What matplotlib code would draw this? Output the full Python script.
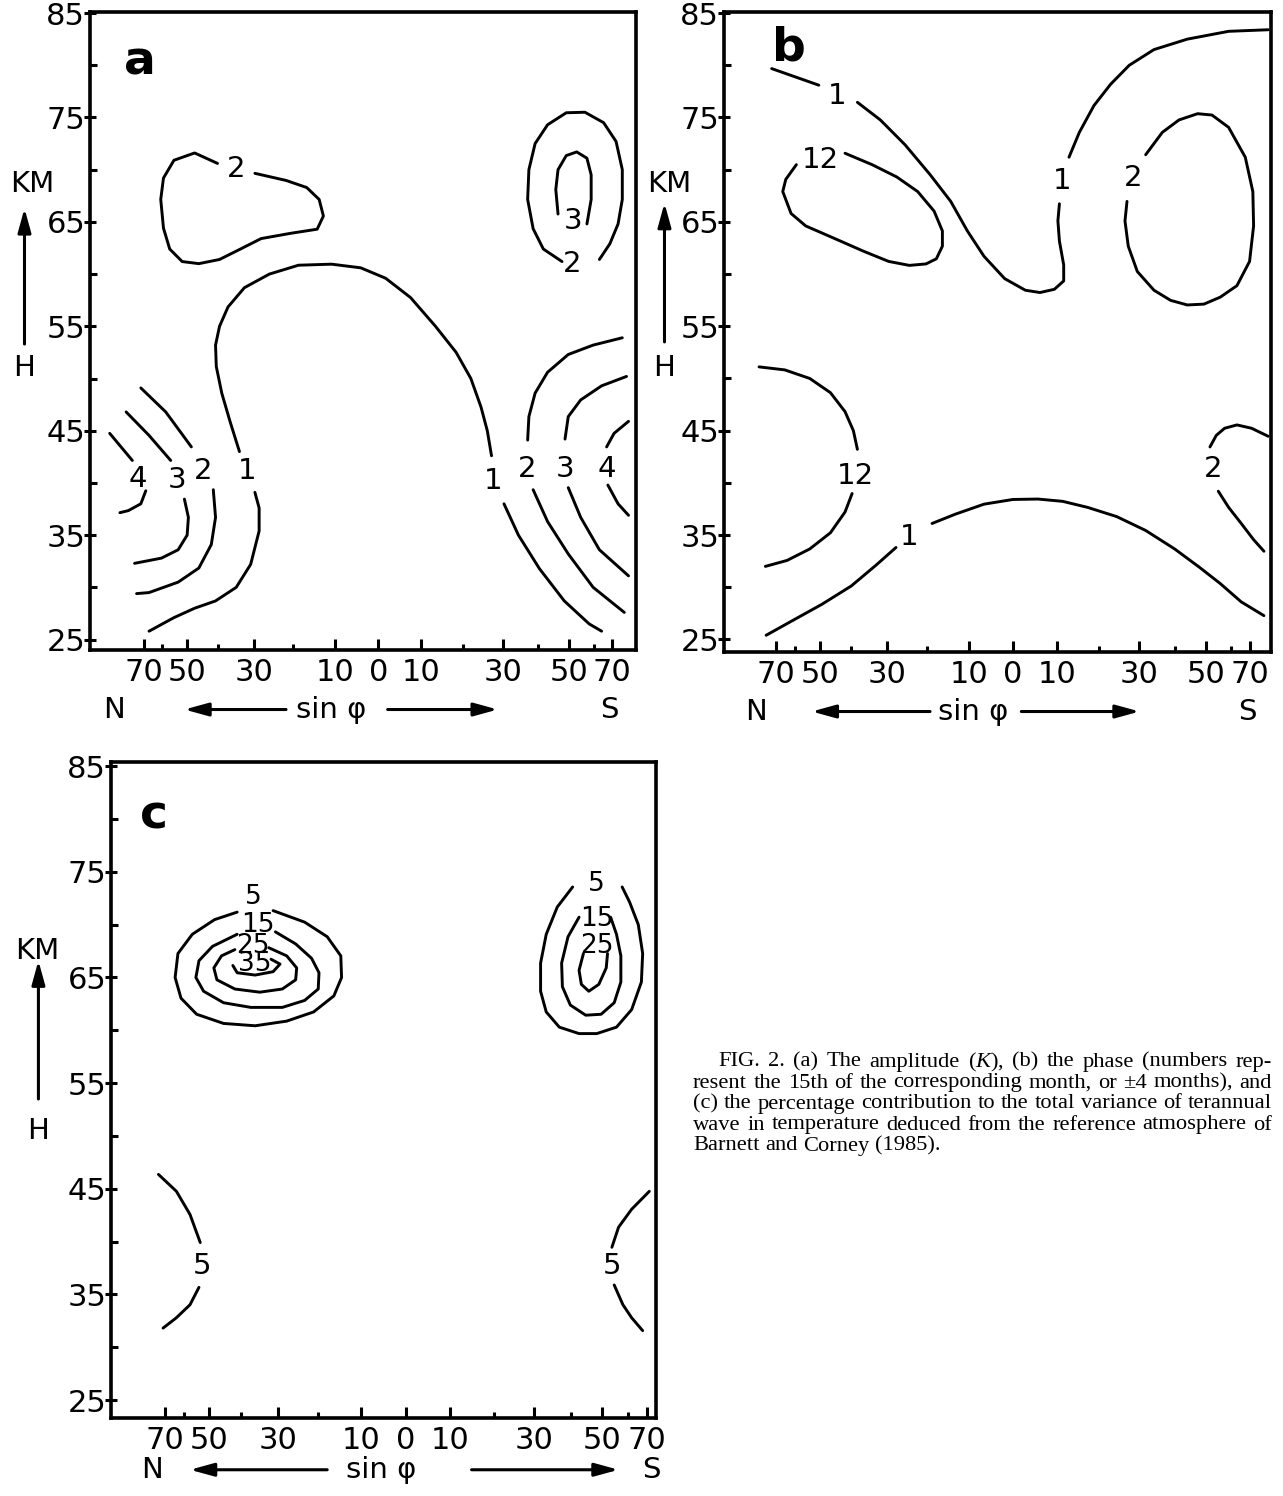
import numpy as np
import matplotlib.pyplot as plt

plt.rcParams['font.family'] = ['DejaVu Sans']
plt.rcParams['mathtext.fontset'] = 'custom'
plt.rcParams['mathtext.rm'] = 'Liberation Serif'
plt.rcParams['mathtext.it'] = 'Liberation Serif:italic'

# axes: x is sin(latitude), north negative; y is height in km
km_major = [25, 35, 45, 55, 65, 75, 85]
km_minor = [30, 40, 50, 60, 70, 80]
lat_major = [-70, -50, -30, -10, 0, 10, 30, 50, 70]
lat_minor = [-60, -40, -20, 20, 40, 60]
lat_labels = ['70', '50', '30', '10', '0', '10', '30', '50', '70']

# ---- (a) amplitude (K), contour pieces as (sin lat, km)
a_two_nw = ([-0.495, -0.37, -0.287, -0.237, -0.22, -0.245, -0.353, -0.47, -0.553, -0.637, -0.72, -0.787, -0.837, -0.862, -0.873, -0.862, -0.82, -0.737, -0.645],
            [69.65, 68.97, 68.29, 67.15, 65.56, 64.3, 63.9, 63.4, 62.4, 61.4, 61.0, 61.2, 62.4, 64.4, 67.15, 69.2, 70.9, 71.6, 70.6])
a_one_w = ([-0.92, -0.82, -0.737, -0.653, -0.57, -0.512, -0.478, -0.478, -0.495],
           [25.8, 27.1, 28.0, 28.7, 30.0, 32.2, 35.4, 37.6, 39.1])
a_one_mid = ([-0.557, -0.595, -0.628, -0.65, -0.653, -0.637, -0.603, -0.537, -0.437, -0.32, -0.187, -0.07, 0.03, 0.13, 0.23, 0.313, 0.372, 0.413, 0.438, 0.455],
             [43.0, 45.9, 48.6, 51.15, 53.2, 55.0, 56.85, 58.7, 60.0, 60.85, 60.95, 60.6, 59.6, 57.75, 55.0, 52.5, 50.0, 47.25, 45.0, 42.6])
a_one_e = ([0.505, 0.563, 0.647, 0.747, 0.847, 0.897],
           [38.0, 35.0, 31.8, 28.7, 26.5, 25.8])
a_four_w_top = ([-1.078, -0.987], [44.75, 42.15])
a_four_w_bot = ([-0.933, -0.953, -1.003, -1.037], [39.25, 38.0, 37.35, 37.15])
a_three_w_top = ([-1.012, -0.92, -0.833], [46.8, 44.55, 42.15])
a_three_w_bot = ([-0.778, -0.762, -0.767, -0.803, -0.87, -0.978], [38.45, 36.7, 35.0, 33.6, 32.8, 32.3])
a_two_w_top = ([-0.953, -0.853, -0.75], [49.1, 46.8, 43.45])
a_two_w_bot = ([-0.662, -0.653, -0.67, -0.72, -0.803, -0.92, -0.97], [39.35, 36.7, 34.1, 31.85, 30.5, 29.5, 29.4])
a_two_e_top = ([0.6, 0.605, 0.63, 0.68, 0.763, 0.863, 0.98], [44.1, 46.35, 48.6, 50.6, 52.3, 53.2, 53.9])
a_two_e_bot = ([0.622, 0.68, 0.763, 0.863, 0.988], [39.35, 36.3, 33.2, 30.0, 27.6])
a_three_e_top = ([0.75, 0.763, 0.813, 0.897, 0.997], [44.2, 46.35, 47.95, 49.3, 50.2])
a_three_e_bot = ([0.763, 0.813, 0.888, 1.005], [39.55, 36.7, 33.6, 31.1])
a_four_e_top = ([0.917, 0.947, 1.005], [43.45, 44.75, 45.9])
a_four_e_bot = ([0.922, 0.963, 1.005], [39.8, 38.0, 36.9])
a_two_ne = ([0.738, 0.663, 0.622, 0.6, 0.605, 0.63, 0.68, 0.755, 0.83, 0.905, 0.955, 0.98, 0.98, 0.963, 0.93, 0.888],
            [61.2, 62.4, 64.35, 67.15, 70.0, 72.5, 74.3, 75.45, 75.5, 74.5, 72.7, 70.0, 67.15, 64.8, 62.9, 61.4])
a_three_ne = ([0.722, 0.713, 0.722, 0.755, 0.797, 0.838, 0.855, 0.855, 0.838],
              [65.75, 68.1, 70.0, 71.35, 71.7, 71.1, 69.5, 67.15, 64.8])
a_labels = [('2', -0.57, 70.1), ('1', -0.528, 41.1), ('1', 0.463, 40.2), ('4', -0.965, 40.4),
            ('3', -0.807, 40.3), ('2', -0.703, 41.1), ('2', 0.597, 41.3), ('3', 0.75, 41.3),
            ('4', 0.917, 41.3), ('2', 0.78, 61.0), ('3', 0.783, 65.05)]

# ---- (b) phase (month)
b_one_nw = ([-0.957, -0.77], [79.68, 78.09])
b_one_top = ([-0.617, -0.526, -0.428, -0.329, -0.247, -0.181, -0.115, -0.033, 0.049, 0.107, 0.164, 0.201, 0.201, 0.184, 0.178, 0.184],
             [76.45, 74.76, 72.38, 69.53, 66.96, 64.13, 61.7, 59.56, 58.45, 58.23, 58.54, 59.34, 60.87, 63.16, 65.1, 66.73])
b_one_ne = ([0.222, 0.263, 0.321, 0.387, 0.461, 0.559, 0.691, 0.855, 1.012],
            [71.19, 73.57, 76.14, 78.18, 80.0, 81.5, 82.5, 83.25, 83.4])
b_twelve_nw = ([-0.666, -0.559, -0.461, -0.378, -0.313, -0.28, -0.28, -0.304, -0.345, -0.411, -0.493, -0.592, -0.707, -0.822, -0.88, -0.913, -0.901, -0.859],
               [71.57, 70.48, 69.3, 67.9, 66.03, 64.13, 62.67, 61.46, 60.97, 60.83, 61.21, 62.18, 63.4, 64.61, 65.8, 67.9, 69.07, 70.48])
b_two_ne = ([0.526, 0.592, 0.658, 0.732, 0.789, 0.855, 0.921, 0.951, 0.954, 0.938, 0.888, 0.822, 0.757, 0.691, 0.625, 0.559, 0.493, 0.457, 0.444, 0.452],
            [71.43, 73.57, 74.76, 75.36, 75.23, 74.05, 71.19, 67.9, 64.61, 61.21, 58.89, 57.79, 57.12, 57.04, 57.48, 58.45, 60.24, 62.67, 65.09, 66.96])
b_twelve_w_top = ([-1.007, -0.905, -0.806, -0.724, -0.666, -0.633, -0.617], [51.11, 50.82, 50.0, 48.64, 46.82, 45.0, 43.21])
b_twelve_w_bot = ([-0.638, -0.666, -0.724, -0.806, -0.896, -0.982], [38.98, 37.21, 35.22, 33.67, 32.57, 32.0])
b_one_sw = ([-0.979, -0.872, -0.757, -0.641, -0.543, -0.464], [25.4, 26.84, 28.38, 30.13, 32.12, 33.81])
b_one_s = ([-0.321, -0.23, -0.115, 0.0, 0.099, 0.197, 0.296, 0.411, 0.526, 0.641, 0.74, 0.822, 0.905, 0.995],
           [36.11, 36.99, 37.96, 38.41, 38.45, 38.23, 37.65, 36.77, 35.44, 33.67, 31.9, 30.35, 28.6, 27.28])
b_two_e_top = ([0.781, 0.806, 0.839, 0.888, 0.946, 1.012], [43.44, 44.55, 45.23, 45.55, 45.23, 44.46])
b_two_e_bot = ([0.814, 0.855, 0.905, 0.954, 0.995], [39.2, 37.65, 36.11, 34.56, 33.45])
b_labels = [('1', -0.699, 77.05), ('12', -0.765, 70.95), ('1', 0.194, 68.93), ('2', 0.477, 69.16),
            ('12', -0.625, 40.63), ('1', -0.411, 34.78), ('2', 0.793, 41.34)]

# ---- (c) percentage of total variance
c_five_nw = ([-0.518, -0.395, -0.307, -0.254, -0.251, -0.281, -0.36, -0.465, -0.588, -0.711, -0.816, -0.877, -0.9, -0.889, -0.833, -0.746, -0.658],
             [71.33, 70.24, 68.86, 67.05, 65.0, 63.26, 61.74, 60.87, 60.43, 60.65, 61.52, 63.04, 65.0, 67.27, 69.09, 70.48, 71.19])
c_fifteen_nw = ([-0.509, -0.43, -0.368, -0.339, -0.342, -0.395, -0.482, -0.605, -0.711, -0.789, -0.819, -0.807, -0.754, -0.658],
                [69.32, 68.18, 66.82, 65.45, 63.91, 62.83, 62.17, 62.17, 62.61, 63.7, 65.0, 66.59, 67.95, 69.09])
c_twentyfive_nw = ([-0.535, -0.465, -0.426, -0.43, -0.482, -0.57, -0.667, -0.737, -0.749, -0.719, -0.667],
                   [67.82, 67.05, 65.91, 64.78, 63.91, 63.61, 63.91, 64.78, 65.91, 67.05, 67.64])
c_thirtyfive_nw = ([-0.675, -0.658, -0.588, -0.518, -0.491, -0.526], [66.14, 65.45, 65.23, 65.55, 66.27, 66.73])
c_five_ne = ([0.65, 0.59, 0.547, 0.525, 0.525, 0.547, 0.598, 0.675, 0.744, 0.821, 0.88, 0.918, 0.923, 0.906, 0.872, 0.843],
             [73.57, 71.67, 69.09, 66.36, 63.7, 61.74, 60.3, 59.69, 59.69, 60.3, 61.96, 64.57, 67.27, 70.0, 72.14, 73.57])
c_fifteen_ne = ([0.675, 0.632, 0.607, 0.61, 0.641, 0.701, 0.761, 0.812, 0.838, 0.838, 0.821, 0.798],
                [70.71, 68.86, 66.36, 64.13, 62.39, 61.43, 61.52, 62.61, 64.57, 67.05, 69.09, 70.71])
c_twentyfive_ne = ([0.692, 0.675, 0.684, 0.713, 0.752, 0.781, 0.786], [67.27, 65.68, 64.35, 63.7, 64.35, 65.91, 67.27])
c_five_w_top = ([-0.965, -0.895, -0.842, -0.802], [46.36, 44.76, 42.57, 39.91])
c_five_w_bot = ([-0.807, -0.842, -0.895, -0.947], [35.67, 34.02, 32.79, 31.81])
c_five_e_top = ([0.949, 0.88, 0.829, 0.803], [44.76, 43.06, 41.36, 39.46])
c_five_e_bot = ([0.812, 0.846, 0.88, 0.923], [35.89, 34.02, 32.79, 31.57])
c_labels = [('5', -0.596, 72.62), ('15', -0.579, 70.0), ('25', -0.596, 67.95), ('35', -0.588, 66.27),
            ('5', 0.744, 73.81), ('15', 0.744, 70.57), ('25', 0.744, 67.95),
            ('5', -0.795, 37.68), ('5', 0.803, 37.68)]

caption = ["FIG. 2. (a) The amplitude ($K$), (b) the phase (numbers rep-",
           "resent the 15th of the corresponding month, or \u00b14 months), and",
           "(c) the percentage contribution to the total variance of terannual",
           "wave in temperature deduced from the reference atmosphere of",
           "Barnett and Corney (1985)."]

W, H = 1283, 1496
fig = plt.figure(figsize=(W / 100, H / 100), dpi=100)


def panel(rect, xlim, ylim):
    ax = fig.add_axes(rect)
    ax.set_xlim(xlim)
    ax.set_ylim(ylim)
    ax.set_xticks(np.sin(np.radians(lat_major)))
    ax.set_xticklabels(lat_labels)
    ax.set_xticks(np.sin(np.radians(lat_minor)), minor=True)
    ax.set_yticks(km_major)
    ax.set_yticks(km_minor, minor=True)
    ax.tick_params(axis='x', which='major', direction='in', length=8, width=2.2, labelsize=22, pad=6)
    ax.tick_params(axis='x', which='minor', direction='in', length=4.5, width=2.2)
    ax.tick_params(axis='y', which='major', direction='inout', length=9, width=2.2, labelsize=22, pad=-1)
    ax.tick_params(axis='y', which='minor', direction='in', length=5, width=2.2)
    for s in ax.spines.values():
        s.set_linewidth(2.6)
    return ax


def arrow(ax, tail, head):
    ax.annotate('', xy=head, xytext=tail, annotation_clip=False,
                arrowprops=dict(arrowstyle='-|>,head_length=0.8,head_width=0.22', lw=2.2, color='k',
                                mutation_scale=18, shrinkA=0, shrinkB=0))


def decorate(ax, letter, lxy, km_x, km_y, ar_x, ar_y, h_y, row_y, n_x, sin_x, left, right, s_x):
    ax.text(lxy[0], lxy[1], letter, fontsize=34, fontweight='bold', ha='left', va='baseline')
    ax.text(km_x, km_y, 'KM', fontsize=21, ha='center', va='center', clip_on=False)
    arrow(ax, (ar_x, ar_y[0]), (ar_x, ar_y[1]))
    ax.text(ar_x, h_y, 'H', fontsize=21, ha='center', va='center', clip_on=False)
    ax.text(n_x, row_y, 'N', fontsize=21, ha='center', va='center', clip_on=False)
    ax.text(sin_x, row_y, 'sin \u03c6', fontsize=21, ha='center', va='center', clip_on=False)
    ax.text(s_x, row_y, 'S', fontsize=21, ha='center', va='center', clip_on=False)
    arrow(ax, (left[0], row_y), (left[1], row_y))
    arrow(ax, (right[0], row_y), (right[1], row_y))


def draw(ax, pieces, labels, size=21):
    for xs, ys in pieces:
        ax.plot(xs, ys, color='k', lw=2.1, solid_capstyle='round', solid_joinstyle='round')
    for s, x, y in labels:
        ax.text(x, y, s, fontsize=size, ha='center', va='center')


ax_a = panel([90 / W, 1 - 650 / H, 546 / W, 638 / H], (-1.157, 1.035), (24.0, 85.1))
draw(ax_a, [a_two_nw, a_one_w, a_one_mid, a_one_e, a_four_w_top, a_four_w_bot, a_three_w_top,
            a_three_w_bot, a_two_w_top, a_two_w_bot, a_two_e_top, a_two_e_bot, a_three_e_top,
            a_three_e_bot, a_four_e_top, a_four_e_bot, a_two_ne, a_three_ne], a_labels)
decorate(ax_a, 'a', (-1.02, 79.1), -1.39, 68.6, -1.42, (53.3, 66.3), 51.0,
         18.3, -1.062, -0.187, (-0.37, -0.778), (0.038, 0.48), 0.93)

ax_b = panel([724 / W, 1 - 652 / H, 547 / W, 640 / H], (-1.146, 1.023), (23.8, 85.1))
draw(ax_b, [b_one_nw, b_one_top, b_one_ne, b_twelve_nw, b_two_ne, b_twelve_w_top, b_twelve_w_bot,
            b_one_sw, b_one_s, b_two_e_top, b_two_e_bot], b_labels)
decorate(ax_b, 'b', (-0.957, 80.5), -1.364, 68.6, -1.382, (53.5, 66.8), 51.0,
         18.1, -1.02, -0.156, (-0.329, -0.798), (0.033, 0.502), 0.929)

ax_c = panel([111 / W, 1 - 1418 / H, 545 / W, 656 / H], (-1.15, 0.975), (23.3, 85.4))
draw(ax_c, [c_five_nw, c_fifteen_nw, c_twentyfive_nw, c_thirtyfive_nw, c_five_ne, c_fifteen_ne,
            c_twentyfive_ne, c_five_w_top, c_five_w_bot, c_five_e_top, c_five_e_bot], c_labels[:7], size=19)
draw(ax_c, [], c_labels[7:])
decorate(ax_c, 'c', (-1.035, 79.1), -1.439, 67.5, -1.433, (53.5, 66.6), 50.5,
         18.4, -0.991, -0.096, (-0.307, -0.842), (0.256, 0.829), 0.957)

# caption, justified line by line
r = fig.canvas.get_renderer()
cap_y = [1062, 1083, 1104, 1125, 1146]
for i, line in enumerate(caption):
    x0 = 718 if i == 0 else 693
    words = line.split(' ')
    ts = [fig.text(0, 1 - cap_y[i] / H, w, fontsize=16.2, family='Liberation Serif', va='center') for w in words]
    ws = [t.get_window_extent(r).width for t in ts]
    gap = (1272 - x0 - sum(ws)) / (len(ws) - 1) if i < len(caption) - 1 else 5.5
    x = x0
    for t, w in zip(ts, ws):
        t.set_x(x / W)
        x += w + gap

fig.savefig('out.png', dpi=100, facecolor='white')
